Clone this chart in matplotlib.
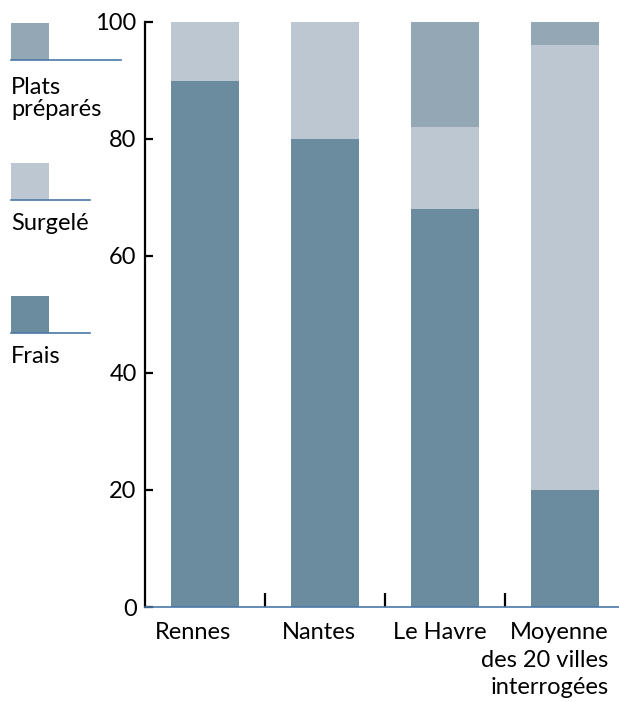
import matplotlib.pyplot as plt
import numpy as np
from matplotlib.patches import Rectangle
from matplotlib.lines import Line2D
from matplotlib.transforms import blended_transform_factory

plt.rcParams["font.family"] = ["Lato", "DejaVu Sans"]

categories = ["Rennes", "Nantes", "Le Havre", "Moyenne\ndes 20 villes\ninterrogées"]
frais = [90, 80, 68, 20]
surgele = [10, 20, 14, 76]
plats = [0, 0, 18, 4]
series_labels = ["Plats\npréparés", "Surgelé", "Frais"]
y_ticks = [0, 20, 40, 60, 80, 100]

c_frais = "#6b8b9e"
c_surgele = "#bdc7d1"
c_plats = "#93a7b5"
c_line = "#4a78a8"
FS = 17

W, H = 619, 702
fig = plt.figure(figsize=(W / 100, H / 100), dpi=100)
ax = fig.add_axes([145 / W, 1 - 607 / H, 1 - 145 / W, (607 - 22) / H])

x = np.arange(len(categories))
width = 0.56
frais = np.array(frais)
surgele = np.array(surgele)
plats = np.array(plats)
ax.bar(x, frais, width, color=c_frais, zorder=2)
ax.bar(x, surgele, width, bottom=frais, color=c_surgele, zorder=2)
ax.bar(x, plats, width, bottom=frais + surgele, color=c_plats, zorder=2)

ax.set_xlim(-0.5, 3.45)
ax.set_ylim(0, 100)
for s in ["top", "right"]:
    ax.spines[s].set_visible(False)
ax.spines["left"].set_linewidth(1.6)
ax.spines["left"].set_color("black")
ax.spines["bottom"].set_color(c_line)
ax.spines["bottom"].set_linewidth(1.2)

ax.set_yticks(y_ticks)
ax.tick_params(axis="y", direction="in", length=6, width=1.6, labelsize=FS, pad=6)
ax.set_xticks([0.5, 1.5, 2.5])
ax.set_xticklabels([])
ax.tick_params(axis="x", direction="in", length=10, width=1.6, color="black")

# category labels
trans = blended_transform_factory(ax.transData, ax.transAxes)
offsets = [-0.096, -0.054, -0.046, 0.3625]
for i, lab in enumerate(categories):
    if i == 3:
        ax.text(i + offsets[i], -0.026, lab, transform=trans, ha="right", va="top",
                multialignment="right", fontsize=FS, linespacing=1.38)
    else:
        ax.text(i + offsets[i], -0.026, lab, transform=trans, ha="center", va="top",
                fontsize=FS)

# legend on the left
legend_items = [
    (c_plats, 23, 121, series_labels[0], 77),
    (c_surgele, 163, 90, series_labels[1], 213),
    (c_frais, 296, 90, series_labels[2], 346),
]
for color, top, line_end, label, text_top in legend_items:
    fig.add_artist(Rectangle((11 / W, 1 - (top + 37) / H), 38 / W, 37 / H,
                             transform=fig.transFigure, color=color, lw=0))
    fig.add_artist(Line2D([11 / W, line_end / W], [1 - (top + 37) / H] * 2,
                          transform=fig.transFigure, color=c_line, lw=1.2))
    fig.text(11 / W, 1 - text_top / H, label, ha="left", va="top", fontsize=FS,
             linespacing=1.05)

fig.savefig("out.png", dpi=100)
